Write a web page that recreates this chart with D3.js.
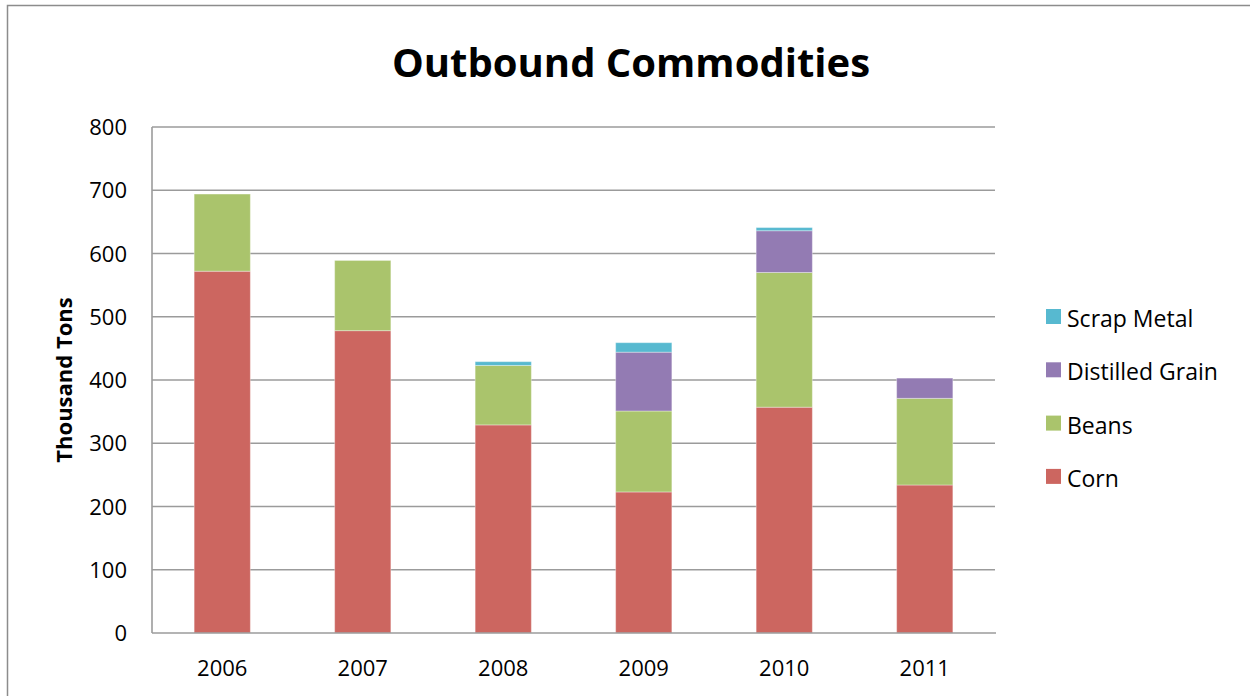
<!DOCTYPE html>
<html><head><meta charset="utf-8">
<script src="https://cdn.jsdelivr.net/npm/d3@7"></script>
<style>body{margin:0;background:#fff}svg{display:block}</style>
</head><body>
<svg id="chart" width="1250" height="696"></svg>
<script>
const years = ["2006","2007","2008","2009","2010","2011"];
const seriesNames = ["Corn","Beans","Distilled Grain","Scrap Metal"];
const corn = [572, 478, 329, 223, 357, 234];
const beans = [122, 111, 94, 128, 213, 137];
const distilledGrain = [0, 0, 0, 93, 66, 32];
const scrapMetal = [0, 0, 6, 15, 5, 0];
const yTicks = [0,100,200,300,400,500,600,700,800];
const colors = ["#CC6660","#AAC46C","#937BB3","#57B9D0"];

const svg = d3.select("#chart");
const font = "'Open Sans', Lato, sans-serif";

svg.append("rect").attr("x",7.5).attr("y",5.5).attr("width",1260).attr("height",720)
  .attr("fill","none").attr("stroke","#8c8c8c").attr("stroke-width",1.5);

const x = d3.scaleBand().domain(years).range([152,995]).paddingInner(0.6).paddingOuter(0.3);
const y = d3.scaleLinear().domain([0,800]).range([633,127]);

const rows = years.map((yr,i)=>({year:yr, "Corn":corn[i], "Beans":beans[i], "Distilled Grain":distilledGrain[i], "Scrap Metal":scrapMetal[i]}));
const stack = d3.stack().keys(seriesNames)(rows);

// gridlines
svg.append("g").selectAll("line").data(yTicks.slice(1)).join("line")
  .attr("x1",152).attr("x2",995).attr("y1",d=>y(d)).attr("y2",d=>y(d))
  .attr("stroke","#9b9b9b").attr("stroke-width",1.6);

// y tick labels
svg.append("g").selectAll("text").data(yTicks).join("text")
  .attr("x",127).attr("y",d=>y(d)+8).attr("text-anchor","end")
  .attr("font-family",font).attr("font-size",22).attr("fill","#000").text(d=>d);

// bars
svg.append("g").selectAll("g").data(stack).join("g")
  .attr("fill",(d,i)=>colors[i])
  .selectAll("rect").data(d=>d.filter(s=>s[1]-s[0]>0)).join("rect")
  .attr("x",d=>x(d.data.year)).attr("width",x.bandwidth())
  .attr("y",d=>y(d[1])).attr("height",d=>y(d[0])-y(d[1]))
  .attr("stroke","rgba(255,255,255,0.35)").attr("stroke-width",1);

// axes lines
svg.append("line").attr("x1",152).attr("x2",152).attr("y1",127).attr("y2",633).attr("stroke","#9b9b9b").attr("stroke-width",1.6);
svg.append("line").attr("x1",152).attr("x2",996).attr("y1",633).attr("y2",633).attr("stroke","#9b9b9b").attr("stroke-width",1.6);

// x labels
svg.append("g").selectAll("text").data(years).join("text")
  .attr("x",d=>x(d)+x.bandwidth()/2).attr("y",676).attr("text-anchor","middle")
  .attr("font-family",font).attr("font-size",22).attr("fill","#000").text(d=>d);

// title
svg.append("text").attr("x",631).attr("y",77).attr("text-anchor","middle")
  .attr("font-family",font).attr("font-weight","bold").attr("font-size",40).attr("fill","#000")
  .text("Outbound Commodities");

// y axis title
svg.append("text").attr("transform","translate(72,380) rotate(-90)").attr("text-anchor","middle")
  .attr("font-family",font).attr("font-weight","bold").attr("font-size",22).attr("fill","#000")
  .text("Thousand Tons");

// legend
const legendOrder = ["Scrap Metal","Distilled Grain","Beans","Corn"];
const lg = svg.append("g").selectAll("g").data(legendOrder).join("g")
  .attr("transform",(d,i)=>`translate(1046,${309 + i*53.3})`);
lg.append("rect").attr("width",15).attr("height",15).attr("fill",d=>colors[seriesNames.indexOf(d)]);
lg.append("text").attr("x",21).attr("y",18).attr("font-family",font).attr("font-size",23).attr("fill","#000").text(d=>d);
</script>
</body></html>
